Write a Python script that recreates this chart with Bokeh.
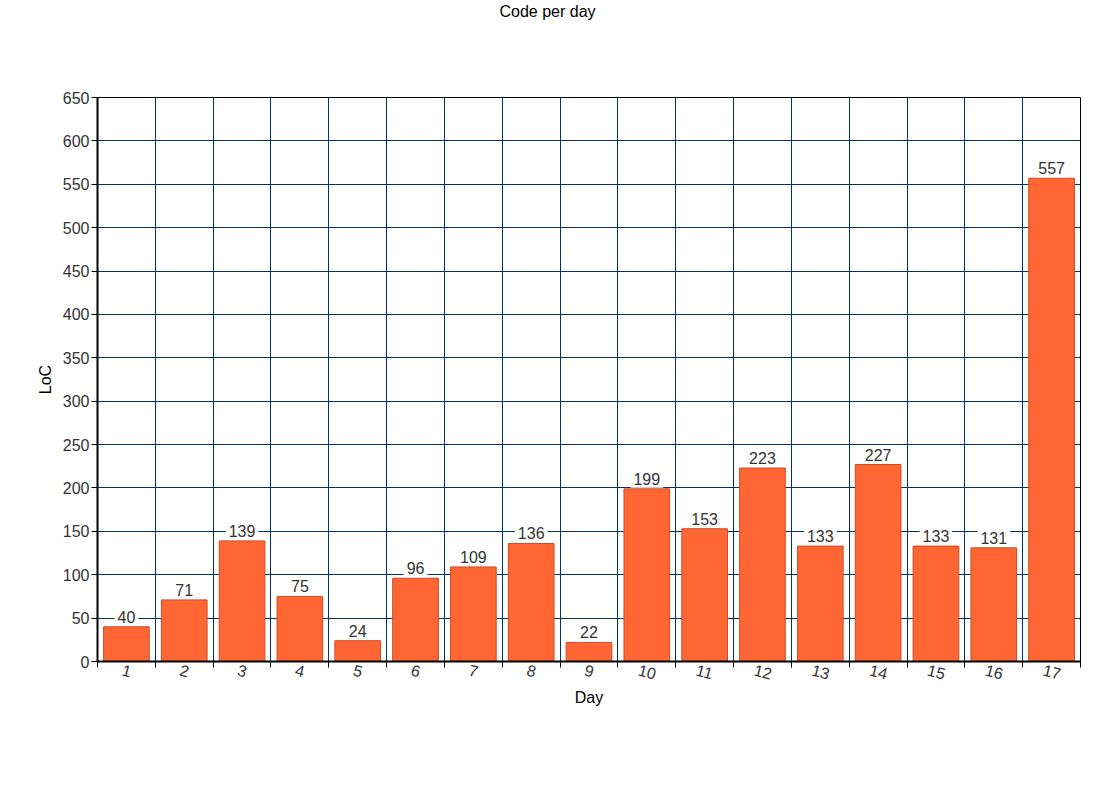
from bokeh.plotting import figure
from bokeh.models import ColumnDataSource, FixedTicker, Range1d, Div
from bokeh.core.properties import value
from bokeh.layouts import column
from bokeh.embed import file_html
from bokeh.resources import INLINE

days = list(range(1, 18))
day_labels = [str(d) for d in days]
loc = [40, 71, 139, 75, 24, 96, 109, 136, 22, 199, 153, 223, 133, 227, 133, 131, 557]
y_ticks = list(range(0, 651, 50))

src = ColumnDataSource(data=dict(day=days, loc=loc, label=[str(v) for v in loc]))

FONT = "Liberation Sans"

title = Div(text="Code per day", width=1095, height=24, margin=(0, 0, 0, 0),
            styles={"text-align": "center", "font-family": FONT, "font-size": "16px",
                    "color": "#000000", "line-height": "24px", "width": "1095px"})

p = figure(width=1088, height=747, output_backend="svg", toolbar_location=None,
           x_range=Range1d(0.5, 17.5), y_range=Range1d(0, 650),
           min_border_left=97, min_border_top=73, min_border_right=8, min_border_bottom=110,
           margin=(0, 0, 0, 0))

p.vbar(x="day", top="loc", width=0.79, source=src, fill_color="#FF6633",
       line_color="#CC4C26", line_width=1)

p.text(x="day", y="loc", text="label", source=src, text_align="center",
       text_baseline="bottom", y_offset=-1, text_font=value(FONT), text_font_size="16px",
       text_color="#333333", background_fill_color="white", padding=3)

p.outline_line_color = "black"
p.outline_line_width = 1

# x axis: rotated labels are anchored at their left end, so nudge the (invisible)
# label anchors left by about half the label width to centre them under the bars
label_pos = [d - 0.07 * len(s) for d, s in zip(days, day_labels)]
p.xaxis.ticker = FixedTicker(ticks=label_pos, minor_ticks=[d + 0.5 for d in range(0, 18)])
p.xaxis.major_label_overrides = {pos: s for pos, s in zip(label_pos, day_labels)}
p.xaxis.minor_tick_line_color = "black"
p.xaxis.minor_tick_in = 0
p.xaxis.minor_tick_out = 6
p.xaxis.major_label_orientation = -0.25
p.xaxis.axis_label = "Day"

# y axis
p.yaxis.ticker = FixedTicker(ticks=y_ticks)
p.yaxis.minor_tick_line_color = None
p.yaxis.major_tick_in = 0
p.yaxis.major_tick_out = 6
p.yaxis.axis_label = "LoC"

for ax in (p.xaxis, p.yaxis):
    ax.axis_line_width = 2
    ax.axis_line_color = "black"
    ax.major_label_text_font = FONT
    ax.major_label_text_font_size = "16px"
    ax.major_label_text_color = "#333333"
    ax.axis_label_text_font = FONT
    ax.axis_label_text_font_size = "16px"
    ax.axis_label_text_font_style = "normal"
    ax.axis_label_text_color = "#000000"

p.xaxis.major_tick_line_color = None
p.yaxis.major_tick_line_color = "black"
p.xaxis.major_label_standoff = 2
p.yaxis.major_label_standoff = 2
p.xaxis.axis_label_standoff = 0
p.yaxis.axis_label_standoff = 6

p.xgrid.ticker = FixedTicker(ticks=[d + 0.5 for d in range(1, 17)])
p.xgrid.grid_line_color = "#003366"
p.ygrid.grid_line_color = "#003366"
p.xgrid.grid_line_width = 1
p.ygrid.grid_line_width = 1

layout = column(title, p, margin=(0, 0, 0, 0))
open("out.html", "w").write(file_html(layout, INLINE))
